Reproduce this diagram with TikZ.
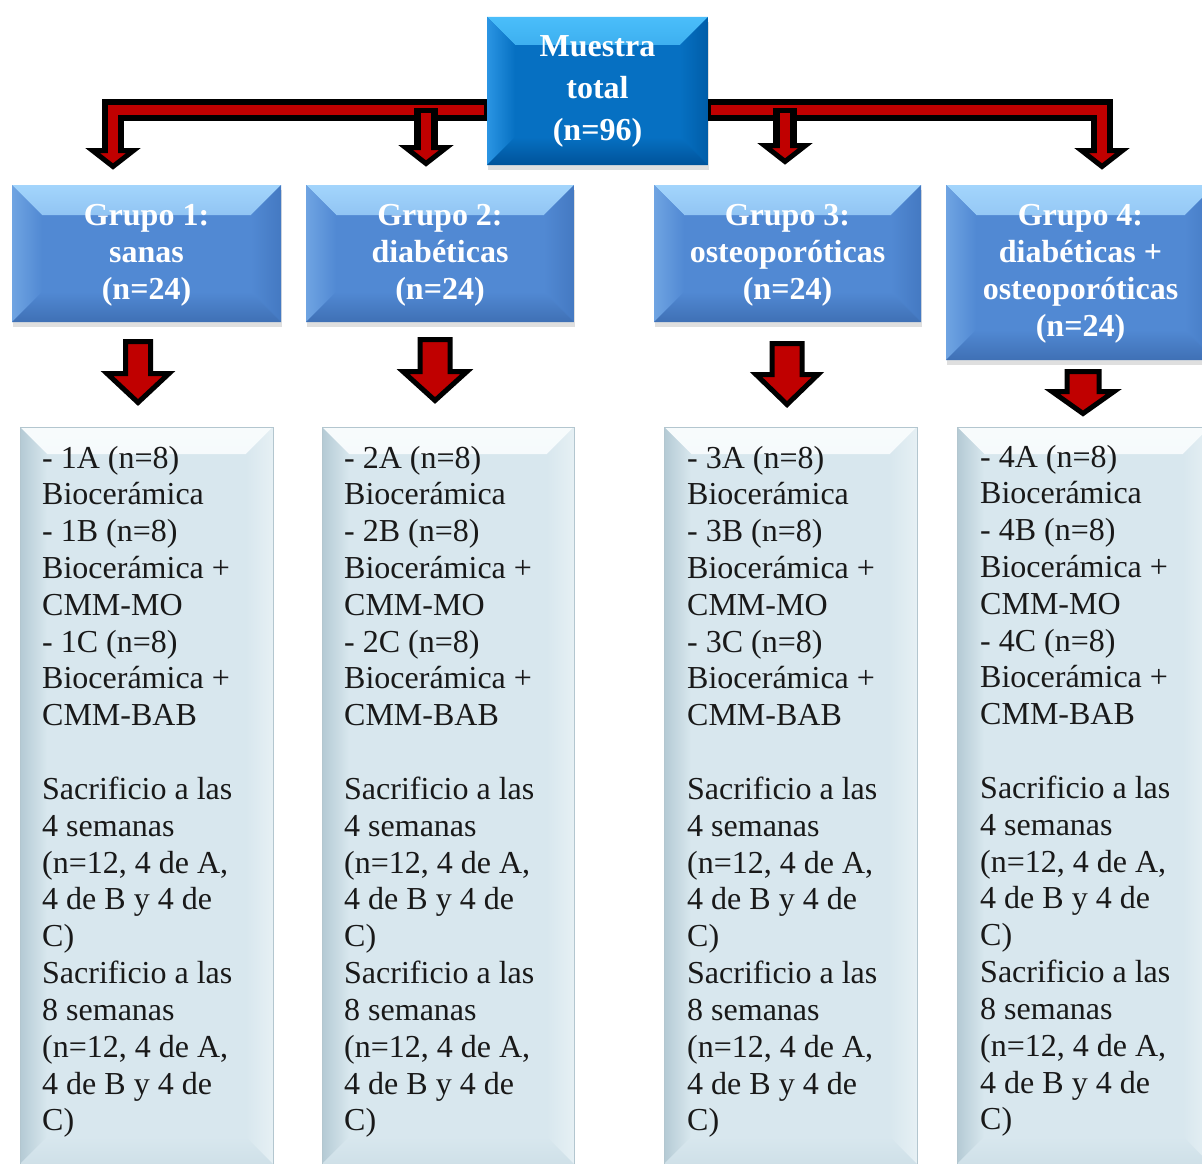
\documentclass[tikz,border=0pt]{standalone}
\usepackage{fontspec}
\setmainfont{Liberation Serif}
\usetikzlibrary{calc,shadows}
\definecolor{arrred}{HTML}{C00000}
\definecolor{mmain}{HTML}{0670C2}
\definecolor{mtop}{HTML}{4ABEFA}
\definecolor{mleft}{HTML}{2B95E3}
\definecolor{mright}{HTML}{005DA8}
\definecolor{mbot}{HTML}{00539A}
\definecolor{gmain}{HTML}{5189D3}
\definecolor{gtop}{HTML}{A3D5FC}
\definecolor{gleft}{HTML}{6FA4E2}
\definecolor{gright}{HTML}{4479C2}
\definecolor{gbot}{HTML}{3F70B5}
\definecolor{pmain}{HTML}{D8E7EE}
\definecolor{ptop}{HTML}{F7FBFC}
\definecolor{pleft}{HTML}{B4CAD4}
\definecolor{pright}{HTML}{E6F0F4}
\definecolor{pbot}{HTML}{CFE0E8}
\definecolor{pedge}{HTML}{B3C6CF}
\newcommand\panelspace{\spaceskip=8pt\xspaceskip=8pt\relax}
\begin{document}
\begin{tikzpicture}[x=1pt,y=-1pt,
  bevelbox/.style n args={6}{fill=#1, inner sep=0pt, path picture={
    \path[top color=#2,bottom color=#1] (path picture bounding box.north west) -- (path picture bounding box.north east)
      -- ([xshift=-#6pt,yshift=-#6pt]path picture bounding box.north east)
      -- ([xshift=#6pt,yshift=-#6pt]path picture bounding box.north west) -- cycle;
    \path[left color=#3,right color=#1] (path picture bounding box.north west) -- ([xshift=#6pt,yshift=-#6pt]path picture bounding box.north west)
      -- ([xshift=#6pt,yshift=#6pt]path picture bounding box.south west)
      -- (path picture bounding box.south west) -- cycle;
    \path[left color=#1,right color=#4] (path picture bounding box.north east) -- ([xshift=-#6pt,yshift=-#6pt]path picture bounding box.north east)
      -- ([xshift=-#6pt,yshift=#6pt]path picture bounding box.south east)
      -- (path picture bounding box.south east) -- cycle;
    \path[top color=#1,bottom color=#5] (path picture bounding box.south west) -- (path picture bounding box.south east)
      -- ([xshift=-#6pt,yshift=#6pt]path picture bounding box.south east)
      -- ([xshift=#6pt,yshift=#6pt]path picture bounding box.south west) -- cycle;
  }},
  topbox/.style={bevelbox={mmain}{mtop}{mleft}{mright}{mbot}{28},
    minimum width=221pt, minimum height=148pt, text=white, align=center,
    font=\fontsize{32}{42}\selectfont\bfseries,
    drop shadow={opacity=0.25, shadow xshift=1pt, shadow yshift=-5pt}},
  grpbox/.style={bevelbox={gmain}{gtop}{gleft}{gright}{gbot}{30},
    minimum width=269pt, minimum height=137pt, text=white, align=center, text depth=3.5pt,
    font=\fontsize{32}{37}\selectfont\bfseries,
    drop shadow={opacity=0.25, shadow xshift=1pt, shadow yshift=-5pt}},
  panelbox/.style={bevelbox={pmain}{ptop}{pleft}{pright}{pbot}{27},
    minimum width=253pt, minimum height=737pt, draw=pedge, line width=0.8pt},
  paneltext/.style={anchor=base west, inner sep=0pt, text width=235pt, align=left,
    font=\fontsize{32}{36.83}\selectfont, text=black!90},
  barblack/.style={draw=black, line width=22pt, line join=miter},
  barred/.style={draw=arrred, line width=10pt, line join=miter},
  headtri/.style={fill=arrred, draw=black, line width=5pt, line join=miter},
  pics/blockarrow/.style n args={4}{code={
    \draw[headtri] (-#1,0) -- (#1,0) -- (#1,#2) -- (#3,#2) -- (0,#4) -- (-#3,#2) -- (-#1,#2) -- cycle;
  }}
]
\clip (0,0) rectangle (1202,1164);
\useasboundingbox (0,0) rectangle (1202,1164);
\fill[white] (0,0) rectangle (1202,1164);

% coordinates of connector heads
\coordinate (h1) at (113,150.5);
\coordinate (h2) at (426,147.5);
\coordinate (h3) at (785,145.5);
\coordinate (h4) at (1102,150.5);
\coordinate (s2) at (426,108);
\coordinate (s3) at (785,108);

% top box
\node[topbox] (top) at (597.5,91) {Muestra\\total\\(n=96)};

% left connectors
\draw[barblack] ([yshift=-19pt]top.west) -| (h1);
\draw[headtri] ([xshift=-20.5pt]h1) -- ([xshift=20.5pt]h1) -- ([yshift=-16pt]h1) -- cycle;
\draw[barred,shorten <=3pt] ([yshift=-19pt]top.west) -| ([yshift=-6pt]h1);
\draw[barblack,line width=24pt] (s2) -- (h2);
\draw[headtri] ([xshift=-20.5pt]h2) -- ([xshift=20.5pt]h2) -- ([yshift=-16pt]h2) -- cycle;
\draw[barred] ([yshift=-5pt]s2) -- ([yshift=-6pt]h2);

% right connectors
\draw[barblack] ([yshift=-19pt]top.east) -| (h4);
\draw[headtri] ([xshift=-20.5pt]h4) -- ([xshift=20.5pt]h4) -- ([yshift=-16pt]h4) -- cycle;
\draw[barred,shorten <=3pt] ([yshift=-19pt]top.east) -| ([yshift=-6pt]h4);
\draw[barblack,line width=24pt] (s3) -- (h3);
\draw[headtri] ([xshift=-20.5pt]h3) -- ([xshift=20.5pt]h3) -- ([yshift=-16pt]h3) -- cycle;
\draw[barred] ([yshift=-5pt]s3) -- ([yshift=-6pt]h3);

% group boxes
\node[grpbox] (g1) at (146.5,253.5) {Grupo 1:\\sanas\\(n=24)};
\node[grpbox,minimum width=268pt] (g2) at (440,253.5) {Grupo 2:\\diabéticas\\(n=24)};
\node[grpbox,minimum width=267pt] (g3) at (787.5,253.5) {Grupo 3:\\osteoporóticas\\(n=24)};
\node[grpbox,minimum height=175pt] (g4) at (1080.5,272.5) {Grupo 4:\\diabéticas +\\osteoporóticas\\(n=24)};

% block arrows
\pic at (138,341.5) {blockarrow={12.5}{32}{31}{61}};
\pic at (435,339.5) {blockarrow={15}{32}{32}{61}};
\pic at (787,343.5) {blockarrow={15}{31}{31}{61}};
\pic at (1083,371.5) {blockarrow={16}{20}{31}{42}};

% panels
\node[panelbox] (p1) at (146.5,795.5) {};
\node[panelbox,minimum width=252pt] (p2) at (448,795.5) {};
\node[panelbox] (p3) at (790.5,795.5) {};
\node[panelbox] (p4) at (1083.5,795.5) {};

\node[paneltext] (t1) at (42,468) {\panelspace - 1A (n=8)\\Biocerámica\\- 1B (n=8)\\Biocerámica +\\CMM-MO\\- 1C (n=8)\\Biocerámica +\\CMM-BAB\\[36.83pt]Sacrificio a las\\4 semanas\\(n=12, 4 de A,\\4 de B y 4 de\\C)\\Sacrificio a las\\8 semanas\\(n=12, 4 de A,\\4 de B y 4 de\\C)};
\node[paneltext] (t2) at (344,468) {\panelspace - 2A (n=8)\\Biocerámica\\- 2B (n=8)\\Biocerámica +\\CMM-MO\\- 2C (n=8)\\Biocerámica +\\CMM-BAB\\[36.83pt]Sacrificio a las\\4 semanas\\(n=12, 4 de A,\\4 de B y 4 de\\C)\\Sacrificio a las\\8 semanas\\(n=12, 4 de A,\\4 de B y 4 de\\C)};
\node[paneltext] (t3) at (687,468) {\panelspace - 3A (n=8)\\Biocerámica\\- 3B (n=8)\\Biocerámica +\\CMM-MO\\- 3C (n=8)\\Biocerámica +\\CMM-BAB\\[36.83pt]Sacrificio a las\\4 semanas\\(n=12, 4 de A,\\4 de B y 4 de\\C)\\Sacrificio a las\\8 semanas\\(n=12, 4 de A,\\4 de B y 4 de\\C)};
\node[paneltext] (t4) at (980,467) {\panelspace - 4A (n=8)\\Biocerámica\\- 4B (n=8)\\Biocerámica +\\CMM-MO\\- 4C (n=8)\\Biocerámica +\\CMM-BAB\\[36.83pt]Sacrificio a las\\4 semanas\\(n=12, 4 de A,\\4 de B y 4 de\\C)\\Sacrificio a las\\8 semanas\\(n=12, 4 de A,\\4 de B y 4 de\\C)};
\end{tikzpicture}
\end{document}
